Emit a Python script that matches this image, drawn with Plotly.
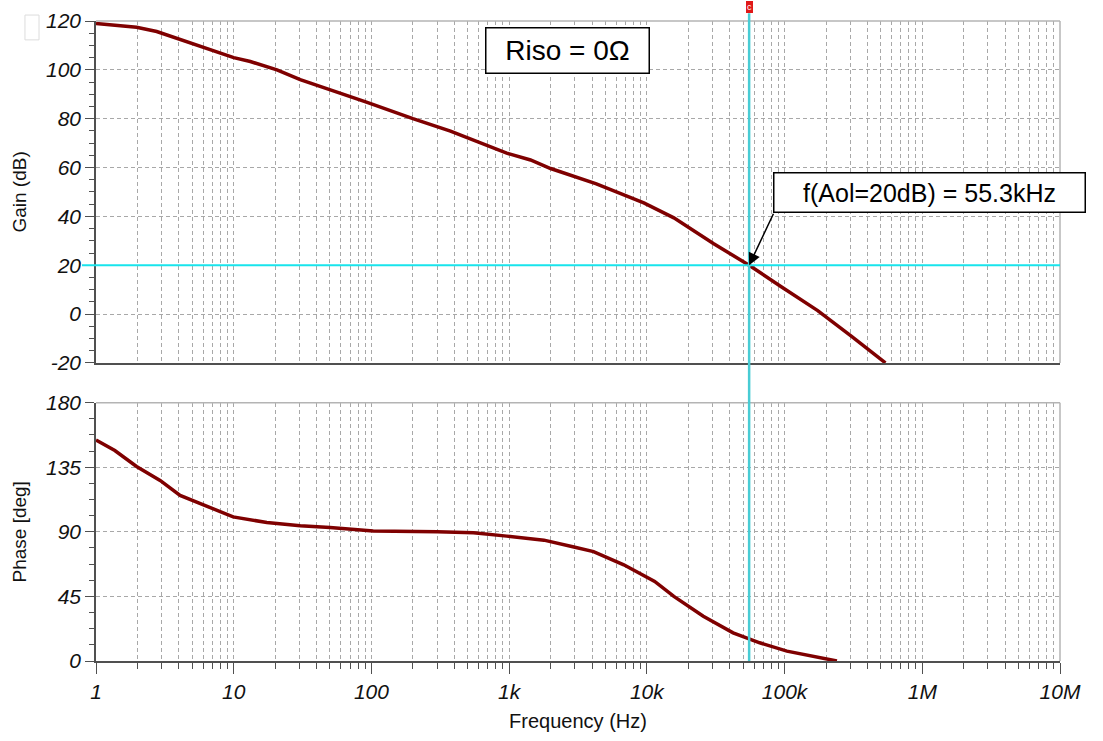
import numpy as np
import plotly.graph_objects as go
from plotly.subplots import make_subplots

# ---------------- data ----------------
gain_freq = [1, 1.41, 1.97, 2.76, 4.55, 7.5, 10, 13.2, 20.6, 30.4, 50, 92, 200, 375,
             960, 1430, 2000, 4300, 9500, 15700, 30600, 55300, 94000, 174000, 305000, 540000]
gain_db = [119, 118.2, 117.4, 115.7, 111.6, 107.5, 105, 103.4, 100, 96, 92, 86.8, 80, 74.9,
           65.9, 63.1, 59.6, 53.3, 45.5, 39.4, 28.8, 20, 11.3, 1.4, -9, -20]

phase_freq = [1, 1.37, 1.97, 2.92, 4.08, 6.03, 9.9, 17.4, 30.4, 50, 103, 300, 550, 960,
              1790, 2900, 4100, 6800, 11400, 15700, 25700, 42300, 66000, 104000, 182000, 240000]
phase_deg = [153.9, 146.6, 135.5, 125.8, 115.4, 108.5, 100.4, 96.5, 94.2, 93, 90.5, 90, 89.3, 87,
             84.2, 79.6, 76.2, 67, 55.4, 45, 31.2, 19.6, 12.7, 6.9, 2.3, 0]

x_major = [1, 10, 100, 1e3, 1e4, 1e5, 1e6, 1e7]
x_labels = ["1", "10", "100", "1k", "10k", "100k", "1M", "10M"]
x_minor = [m * d for d in [1, 10, 100, 1e3, 1e4, 1e5, 1e6] for m in range(2, 10)]

gain_ticks = [-20, 0, 20, 40, 60, 80, 100, 120]
gain_labels = ["-20", "0", "20", "40", "60", "80", "100", "120"]
phase_ticks = [0, 45, 90, 135, 180]
phase_labels = ["0", "45", "90", "135", "180"]

cross_freq = 55300
cross_gain = 20
cursor_label = "f(Aol=20dB) = 55.3kHz"
title_label = "Riso = 0\u03a9"


def ital(labels):
    return ["<i>" + s + "</i>" for s in labels]


# ---------------- styling ----------------
FONT = "Liberation Sans, Arial, sans-serif"
CURVE = "#7f0000"
GRID = "#a8a8a8"
AXIS = "#505050"
CYAN_V = "#48ccd4"
CYAN_H = "#18e4ec"

fig = make_subplots(rows=2, cols=1, shared_xaxes=False, vertical_spacing=0.0)

fig.add_trace(go.Scatter(x=gain_freq, y=gain_db, mode="lines",
                         line=dict(color=CURVE, width=3.5), showlegend=False), row=1, col=1)
fig.add_trace(go.Scatter(x=phase_freq, y=phase_deg, mode="lines",
                         line=dict(color=CURVE, width=3.5), showlegend=False), row=2, col=1)

tickfont = dict(family=FONT, size=21, color="#111111")
titlefont = dict(family=FONT, size=19, color="#111111")

common_x = dict(type="log", range=[0, 7], showgrid=True, gridcolor=GRID, griddash="4px,3px",
                gridwidth=1, zeroline=False, showline=True, linecolor=AXIS, linewidth=1.5,
                tickvals=x_major, ticktext=ital(x_labels), tickfont=tickfont)

fig.update_xaxes(**common_x, row=1, col=1)
fig.update_xaxes(showticklabels=False, ticks="",
                 minor=dict(tickvals=x_minor, showgrid=True, gridcolor=GRID,
                            griddash="4px,3px", ticks=""), row=1, col=1)
fig.update_xaxes(**common_x, row=2, col=1)
fig.update_xaxes(ticks="outside", ticklen=11, tickwidth=1.3, tickcolor=AXIS,
                 minor=dict(tickvals=x_minor, showgrid=True, gridcolor=GRID,
                            griddash="4px,3px", ticks="outside", ticklen=6,
                            tickwidth=1, tickcolor=AXIS),
                 title=dict(text="Frequency (Hz)", font=dict(family=FONT, size=20, color="#111111"),
                            standoff=12),
                 row=2, col=1)

common_y = dict(showgrid=True, gridcolor=GRID, griddash="4px,3px", gridwidth=1,
                zeroline=False, showline=True, linecolor=AXIS, linewidth=1.5,
                ticks="outside", ticklen=9, tickwidth=1.3, tickcolor=AXIS,
                tickfont=tickfont, automargin=False)

fig.update_yaxes(**common_y, range=[-20, 120], tickvals=gain_ticks, ticktext=ital(gain_labels),
                 minor=dict(dtick=5, tick0=0, ticks="outside", ticklen=5, tickcolor=AXIS,
                            showgrid=False),
                 title=dict(text="Gain (dB)", font=titlefont, standoff=14), row=1, col=1)
fig.update_yaxes(**common_y, range=[0, 180], tickvals=phase_ticks, ticktext=ital(phase_labels),
                 minor=dict(dtick=11.25, tick0=0, ticks="outside", ticklen=5, tickcolor=AXIS,
                            showgrid=False),
                 title=dict(text="Phase [deg]", font=titlefont, standoff=14), row=2, col=1)

fig.update_layout(
    width=1103, height=741,
    margin=dict(l=96, r=43, t=21, b=76),
    paper_bgcolor="white", plot_bgcolor="white",
    font=dict(family=FONT),
)
fig.update_layout(
    xaxis=dict(domain=[0, 1], anchor="y"),
    yaxis=dict(domain=[0.4658, 1.0]),
    xaxis2=dict(domain=[0, 1], anchor="y2"),
    yaxis2=dict(domain=[0.0, 0.4037]),
)

shapes = []
# light top / right border of each panel
for xr, yr in [("x domain", "y domain"), ("x2 domain", "y2 domain")]:
    shapes.append(dict(type="line", xref=xr, yref=yr, x0=0, x1=1, y0=1, y1=1,
                       line=dict(color="#b4b4b4", width=1.5)))
    shapes.append(dict(type="line", xref=xr, yref=yr, x0=1, x1=1, y0=0, y1=1,
                       line=dict(color="#b4b4b4", width=1.5)))
# horizontal cursor at 20 dB
shapes.append(dict(type="line", xref="paper", yref="y", x0=-0.0145, x1=1,
                   y0=cross_gain, y1=cross_gain, line=dict(color=CYAN_H, width=2)))
# vertical cursor at crossover frequency
shapes.append(dict(type="line", xref="x", yref="paper", x0=cross_freq, x1=cross_freq,
                   y0=0, y1=1.012, line=dict(color=CYAN_V, width=2.5)))
# faint box glyph at top-left
shapes.append(dict(type="rect", xref="paper", yref="paper", x0=-0.0737, x1=-0.0591,
                   y0=0.9705, y1=1.0093, line=dict(color="#dcdcdc", width=1)))
fig.update_layout(shapes=shapes)

annotations = [
    # "Riso" label box
    dict(text=title_label, xref="paper", yref="paper", x=0.4896, y=0.9534,
         xanchor="center", yanchor="middle", showarrow=False,
         font=dict(family=FONT, size=28, color="black"),
         bgcolor="white", bordercolor="black", borderwidth=1.5, borderpad=2,
         width=158, height=40),
    # cursor value box
    dict(text=cursor_label, xref="paper", yref="paper", x=0.865, y=0.7314,
         xanchor="center", yanchor="middle", showarrow=False,
         font=dict(family=FONT, size=25, color="black"),
         bgcolor="white", bordercolor="black", borderwidth=1.5, borderpad=2,
         width=306, height=34),
    # arrow from box corner to crossover point
    dict(text="", x=np.log10(cross_freq), y=cross_gain, xref="x", yref="y",
         showarrow=True, ax=25, ay=-53, axref="pixel", ayref="pixel",
         arrowhead=2, arrowsize=1.6, arrowwidth=1.5, arrowcolor="black"),
    # cursor marker at top
    dict(text="c", x=np.log10(cross_freq), y=1.012, xref="x", yref="paper",
         xanchor="center", yanchor="bottom", showarrow=False,
         font=dict(family=FONT, size=9, color="white"),
         bgcolor="#e01818", bordercolor="#e01818", borderwidth=1, borderpad=0),
]
fig.update_layout(annotations=annotations)

fig.write_html("out.html")
